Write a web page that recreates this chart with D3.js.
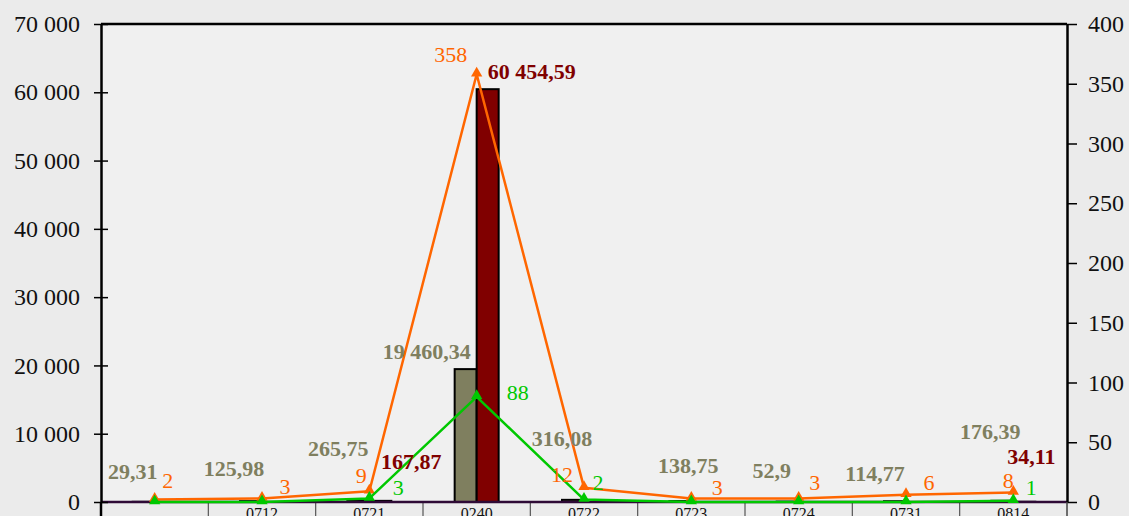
<!DOCTYPE html>
<html>
<head>
<meta charset="utf-8">
<script src="https://cdn.jsdelivr.net/npm/d3@7/dist/d3.min.js"></script>
<style>
	html, body { margin: 0; padding: 0; background: #ebebeb; }
	svg { display: block; font-family: "Liberation Serif", "Times New Roman", serif; }
</style>
</head>
<body>
<svg id="chart" width="1129" height="516"></svg>
<script>
// ── data ─────────────────────────────────────────────────
const categories = ['', '0712', '0721', '0240', '0722', '0723', '0724', '0731', '0814'];
const olive = [29.31, 125.98, 265.75, 19460.34, 316.08, 138.75, 52.9, 114.77, 176.39];
const darkRed = [null, null, 167.87, 60454.59, null, null, null, null, 34.11];
const orange = [2, 3, 9, 358, 12, 3, 3, 6, 8];
const green = [0, 0, 3, 88, 2, 0, 0, 0, 1];
const leftTicks = [0, 10000, 20000, 30000, 40000, 50000, 60000, 70000];
const rightTicks = [0, 50, 100, 150, 200, 250, 300, 350, 400];

// label nudges (px, relative to the mark anchor) — layout only, not data
const oliveNudge = [[-11, -23], [-17, -25], [-20, -44], [-39, -10], [-11, -54], [8, -28], [-16, -24], [-20, -20], [-12, -62]];
const redNudge = [null, null, [31, -32], [44, -10], null, null, null, null, [7, -38]];
const orangeNudge = [[13, -12], [23, -4], [-8, -8], [-26, -12], [-22, -6], [26, -3], [16, -8], [23, -5], [-5, -4]];
const greenNudge = [null, null, [29, -3], [41, 3], [14, -10], null, null, null, [18, -6]];

const W = 1129, H = 516;
const M = { top: 24, right: 62, bottom: 14, left: 101 };
const innerW = W - M.left - M.right;
const innerH = H - M.top - M.bottom;

const C = {
	olive: '#7f7f5f',
	red: '#800000',
	orange: '#ff6600',
	green: '#00c800',
	baseline: '#2e0a36',
};

const locale = d3.formatLocale({ decimal: ',', thousands: ' ', grouping: [3], currency: ['', ''] });
const fmtAxis = locale.format(',');
const fmtVal = locale.format(',.2~f');

const svg = d3.select('#chart');
svg.append('rect').attr('width', W).attr('height', H).attr('fill', '#ebebeb');

const g = svg.append('g').attr('transform', `translate(${M.left},${M.top})`);
g.append('rect').attr('width', innerW).attr('height', innerH).attr('fill', '#f0f0f0');

const x = d3.scaleBand().domain(d3.range(categories.length)).range([0, innerW]);
const yL = d3.scaleLinear().domain([0, 70000]).range([innerH, 0]);
const yR = d3.scaleLinear().domain([0, 400]).range([innerH, 0]);
const barW = 22;
const cx = (i) => x(i) + x.bandwidth() / 2;

// category separators below the axis
g.append('g').selectAll('line').data(d3.range(1, categories.length + 1)).join('line')
	.attr('x1', (i) => x.step() * i).attr('x2', (i) => x.step() * i)
	.attr('y1', innerH).attr('y2', innerH + 20)
	.attr('stroke', '#555').attr('stroke-width', 1.2);

g.append('g').selectAll('text').data(categories).join('text')
	.attr('x', (d, i) => cx(i)).attr('y', innerH + 17)
	.attr('text-anchor', 'middle').attr('font-size', '16px').attr('fill', '#111')
	.text((d) => d);

// bars
const bars = g.append('g');
olive.forEach((v, i) => {
	bars.append('rect')
		.attr('x', cx(i) - barW).attr('y', yL(v)).attr('width', barW)
		.attr('height', Math.max(0, innerH - yL(v)))
		.attr('fill', C.olive).attr('stroke', '#000').attr('stroke-width', 2);
});
darkRed.forEach((v, i) => {
	if (v == null) return;
	bars.append('rect')
		.attr('x', cx(i)).attr('y', yL(v)).attr('width', barW)
		.attr('height', Math.max(0, innerH - yL(v)))
		.attr('fill', C.red).attr('stroke', '#000').attr('stroke-width', 2);
});

// x axis baseline
g.append('line').attr('x1', 0).attr('x2', innerW).attr('y1', innerH).attr('y2', innerH)
	.attr('stroke', C.baseline).attr('stroke-width', 2.5);

// axes
const axL = g.append('g').call(d3.axisLeft(yL).tickValues(leftTicks).tickFormat(fmtAxis).tickSizeInner(7).tickSizeOuter(0).tickPadding(14));
axL.select('.domain').attr('stroke', '#000').attr('stroke-width', 2.5);
axL.selectAll('.tick line').attr('x2', 7).attr('x1', -7).attr('stroke', '#000').attr('stroke-width', 1.5);
axL.selectAll('.tick text').attr('font-size', '24px').attr('fill', '#111')
	.attr('font-family', '"Liberation Serif", serif').attr('x', -21);
g.append('line').attr('x1', 0).attr('x2', 0).attr('y1', innerH).attr('y2', innerH + 20)
	.attr('stroke', '#000').attr('stroke-width', 2.5);

const axR = g.append('g').attr('transform', `translate(${innerW},0)`)
	.call(d3.axisRight(yR).tickValues(rightTicks).tickSizeInner(10).tickSizeOuter(0).tickPadding(11));
axR.select('.domain').attr('stroke', '#000').attr('stroke-width', 2.5);
axR.selectAll('.tick line').attr('stroke', '#000').attr('stroke-width', 1.5);
axR.selectAll('.tick text').attr('font-size', '24px').attr('fill', '#111')
	.attr('font-family', '"Liberation Serif", serif');
g.append('line').attr('x1', innerW).attr('x2', innerW).attr('y1', innerH).attr('y2', innerH + 20)
	.attr('stroke', '#555').attr('stroke-width', 1.2);

// top border
g.append('line').attr('x1', 0).attr('x2', innerW).attr('y1', 0).attr('y2', 0)
	.attr('stroke', '#000').attr('stroke-width', 2.5);

// lines
const line = (vals) => d3.line().x((d, i) => cx(i)).y((d) => yR(d))(vals);
const tri = d3.symbol().type(d3.symbolTriangle).size(55);

function drawSeries(vals, color, width) {
	g.append('path').attr('d', line(vals)).attr('fill', 'none')
		.attr('stroke', color).attr('stroke-width', width).attr('stroke-linejoin', 'round');
	g.append('g').selectAll('path').data(vals).join('path')
		.attr('d', tri).attr('transform', (d, i) => `translate(${cx(i)},${yR(d) - 1})`)
		.attr('fill', color);
}
drawSeries(orange, C.orange, 2.5);
drawSeries(green, C.green, 2.5);

// value labels
const labels = g.append('g').attr('text-anchor', 'middle').attr('font-size', '22px');
olive.forEach((v, i) => {
	const [dx, dy] = oliveNudge[i];
	labels.append('text').attr('x', cx(i) - barW / 2 + dx).attr('y', yL(v) + dy)
		.attr('fill', C.olive).attr('font-weight', 'bold').text(fmtVal(v));
});
darkRed.forEach((v, i) => {
	if (v == null) return;
	const [dx, dy] = redNudge[i];
	labels.append('text').attr('x', cx(i) + barW / 2 + dx).attr('y', yL(v) + dy)
		.attr('fill', C.red).attr('font-weight', 'bold').text(fmtVal(v));
});
orange.forEach((v, i) => {
	const [dx, dy] = orangeNudge[i];
	labels.append('text').attr('x', cx(i) + dx).attr('y', yR(v) + dy)
		.attr('fill', C.orange).text(fmtVal(v));
});
green.forEach((v, i) => {
	if (!greenNudge[i]) return;
	const [dx, dy] = greenNudge[i];
	labels.append('text').attr('x', cx(i) + dx).attr('y', yR(v) + dy)
		.attr('fill', C.green).text(fmtVal(v));
});
</script>
</body>
</html>
